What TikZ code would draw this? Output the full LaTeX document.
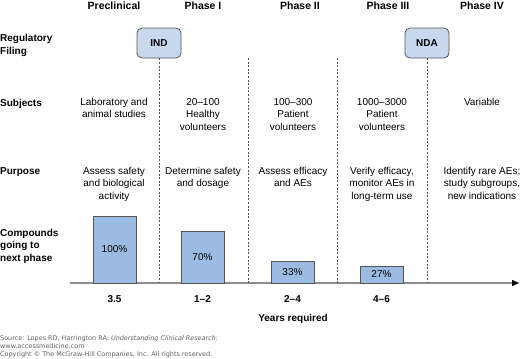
\documentclass[tikz,border=0pt]{standalone}
\usepackage{fontspec}
\setmainfont{Liberation Sans}
\newfontfamily\srcfont{DejaVu Sans}
\usetikzlibrary{arrows.meta}
\definecolor{barfill}{HTML}{9BBBE3}
\definecolor{boxfill}{HTML}{C8D8EF}
\definecolor{edgegray}{HTML}{555555}
\definecolor{axisgray}{HTML}{8C8C8C}
\definecolor{srcgray}{HTML}{606060}
\tikzset{
  hdr/.style={font=\fontsize{10.5}{12.5}\selectfont\bfseries, anchor=base, inner sep=0pt},
  rowlab/.style={font=\fontsize{10}{13}\selectfont\bfseries, anchor=base west, align=left, inner sep=0pt},
  cell/.style={font=\fontsize{10}{12.5}\selectfont, anchor=base, align=center, inner sep=0pt},
  filing/.style={draw=edgegray, fill=boxfill, rounded corners=5pt, minimum width=44pt, minimum height=30pt, font=\fontsize{10}{12}\selectfont\bfseries, line width=0.8pt},
  barbox/.style={draw=edgegray, fill=barfill, line width=0.8pt},
  barlab/.style={font=\fontsize{10}{12}\selectfont, inner sep=0pt},
  divider/.style={draw=edgegray, dash pattern=on 2pt off 1.6pt, line width=0.6pt},
  yrs/.style={font=\fontsize{10}{12}\selectfont\bfseries, anchor=base, inner sep=0pt},
  src/.style={font=\srcfont\fontsize{6.45}{8}\selectfont, text=srcgray, anchor=base west, inner sep=0pt}
}
\begin{document}
\begin{tikzpicture}[x=1pt,y=-1pt]
\useasboundingbox (0,0) rectangle (520,359);
% headers
\node[hdr] (h0) at (114,9) {Preclinical};
\node[hdr] (h1) at (203,9) {Phase I};
\node[hdr] (h2) at (300,9) {Phase II};
\node[hdr] (h3) at (388,9) {Phase III};
\node[hdr] (h4) at (482,9) {Phase IV};
% row labels (base anchor = last line baseline)
\node[rowlab] (rl1) at (0,54) {Regulatory\\Filing};
\node[rowlab] (rl2) at (0,106) {Subjects};
\node[rowlab] (rl3) at (0,174) {Purpose};
\node[rowlab, font=\fontsize{10}{12.5}\selectfont\bfseries] (rl4) at (0,261) {Compounds\\going to\\next phase};
% filing boxes
\node[filing] (ind) at (159,43) {IND};
\node[filing] (nda) at (427,43) {NDA};
% axis
\coordinate (ax0) at (70,283);
\coordinate (ax1) at (519,283);
\draw[axisgray, line width=1.4pt, -{Triangle[length=7pt,width=6pt,black]}] (ax0) -- (ax1);
% dividers
\coordinate (d1a) at (248,58); \coordinate (d1b) at (248,283);
\coordinate (d2a) at (337,58); \coordinate (d2b) at (337,283);
\coordinate (indb) at (159,283);
\coordinate (ndab) at (427,283);
\draw[divider] (ind.south) -- (indb);
\draw[divider] (nda.south) -- (ndab);
\draw[divider] (d1a) -- (d1b);
\draw[divider] (d2a) -- (d2b);
% subjects
\node[cell] (s0) at (114,117.5) {Laboratory and\\animal studies};
\node[cell] (s1) at (203,130) {20–100\\Healthy\\volunteers};
\node[cell] (s2) at (293,130) {100–300\\Patient\\volunteers};
\node[cell] (s3) at (382,130) {1000–3000\\Patient\\volunteers};
\node[cell] (s4) at (482,105) {Variable};
% purpose
\node[cell] (p0) at (114,199) {Assess safety\\and biological\\activity};
\node[cell] (p1) at (203,186.5) {Determine safety\\and dosage};
\node[cell] (p2) at (293,186.5) {Assess efficacy\\and AEs};
\node[cell] (p3) at (382,199) {Verify efficacy,\\monitor AEs in\\long-term use};
\node[cell] (p4) at (482,199) {Identify rare AEs;\\study subgroups,\\new indications};
% bars
\draw[barbox] (93,216) rectangle (136,283);
\draw[barbox] (181,231) rectangle (224,283);
\draw[barbox] (271,261) rectangle (314,283);
\draw[barbox] (360,266) rectangle (403,283);
\node[barlab] (b0) at (114.5,249.5) {100\%};
\node[barlab] (b1) at (202.5,257) {70\%};
\node[barlab] (b2) at (292.5,272) {33\%};
\node[barlab] (b3) at (381.5,274.5) {27\%};
% years
\node[yrs] (y0) at (114.5,302) {3.5};
\node[yrs] (y1) at (202.5,302) {1–2};
\node[yrs] (y2) at (292.5,302) {2–4};
\node[yrs] (y3) at (381.5,302) {4–6};
\node[yrs] (yr) at (293,321) {Years required};
% source
\node[src] (src1) at (0,340.5) {Source: Lopes RD, Harrington RA: \textit{Understanding Clinical Research:}};
\node[src] (src2) at (0,348.5) {www.accessmedicine.com};
\node[src] (src3) at (0,356.5) {Copyright © The McGraw-Hill Companies, Inc. All rights reserved.};
\end{tikzpicture}
\end{document}
